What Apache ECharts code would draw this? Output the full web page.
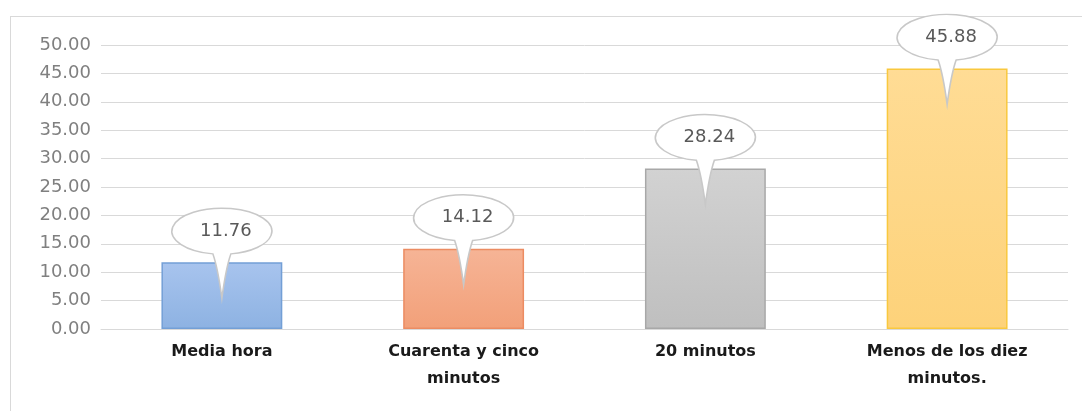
<!DOCTYPE html>
<html>
<head>
<meta charset="utf-8">
<script src="https://cdn.jsdelivr.net/npm/echarts@6/dist/echarts.min.js"></script>
<style>
  html, body { margin: 0; padding: 0; background: #fff; }
  #frame { position: absolute; left: 10px; top: 16px; width: 1072px; height: 395px;
           border-left: 1px solid #d9d9d9; border-top: 1px solid #d9d9d9; }
  #chart { position: absolute; left: 0; top: 0; width: 1082px; height: 411px; }
</style>
</head>
<body>
<div id="frame"></div>
<div id="chart"></div>
<script>
  // datos
  const categorias = ['Media hora', 'Cuarenta y cinco\nminutos', '20 minutos', 'Menos de los diez\nminutos.'];
  const valores = [11.76, 14.12, 28.24, 45.88];
  const ticksY = [0, 50, 5];   // min, max, intervalo

  // colores de cada barra (arriba, abajo, borde)
  const colores = [
    ['#a8c4ee', '#8db2e2', '#739fd6'],
    ['#f6b496', '#f2a079', '#ec8c62'],
    ['#d2d2d2', '#bfbfbf', '#a8a8a8'],
    ['#ffdc95', '#fdd27a', '#f9c83e']
  ];

  // globo de texto: elipse con una punta hacia abajo
  const globo = 'path://M41,45.7 A50,23 0 1 1 59,45.7 Q54,60 50,90 Q46,60 41,45.7 Z';

  let myChart = echarts.init(document.getElementById('chart'));

  let option = {
    animation: false,
    grid: { left: 101, right: 14, top: 45, bottom: 82 },
    xAxis: {
      type: 'category',
      data: categorias,
      axisLine: { lineStyle: { color: '#d9d9d9' } },
      axisTick: { show: false },
      axisLabel: {
        color: '#1a1a1a',
        fontFamily: 'DejaVu Sans',
        fontWeight: 'bold',
        fontSize: 16,
        lineHeight: 27,
        margin: 9
      }
    },
    yAxis: {
      type: 'value',
      min: ticksY[0],
      max: ticksY[1],
      interval: ticksY[2],
      axisLine: { show: false },
      axisTick: { show: false },
      splitLine: { lineStyle: { color: '#d9d9d9' } },
      axisLabel: {
        color: '#808080',
        fontFamily: 'DejaVu Sans',
        fontSize: 18,
        margin: 10,
        formatter: v => v.toFixed(2)
      }
    },
    series: [
      {
        type: 'bar',
        barWidth: '50%',
        data: valores.map((v, i) => ({
          value: v,
          itemStyle: {
            color: new echarts.graphic.LinearGradient(0, 0, 0, 1, [
              { offset: 0, color: colores[i][0] },
              { offset: 1, color: colores[i][1] }
            ]),
            borderColor: colores[i][2],
            borderWidth: 1.5
          }
        })),
        markPoint: {
          symbol: globo,
          symbolSize: [100, 90],
          symbolKeepAspect: false,
          symbolOffset: [0, -9],
          itemStyle: { color: '#fff', borderColor: '#c8c8c8', borderWidth: 1.5 },
          label: {
            show: true,
            color: '#595959',
            fontFamily: 'DejaVu Sans',
            fontSize: 18,
            offset: [4, -22],
            formatter: p => p.value.toFixed(2)
          },
          data: valores.map((v, i) => ({ coord: [i, v], value: v }))
        }
      }
    ]
  };
  myChart.setOption(option);
</script>
</body>
</html>
